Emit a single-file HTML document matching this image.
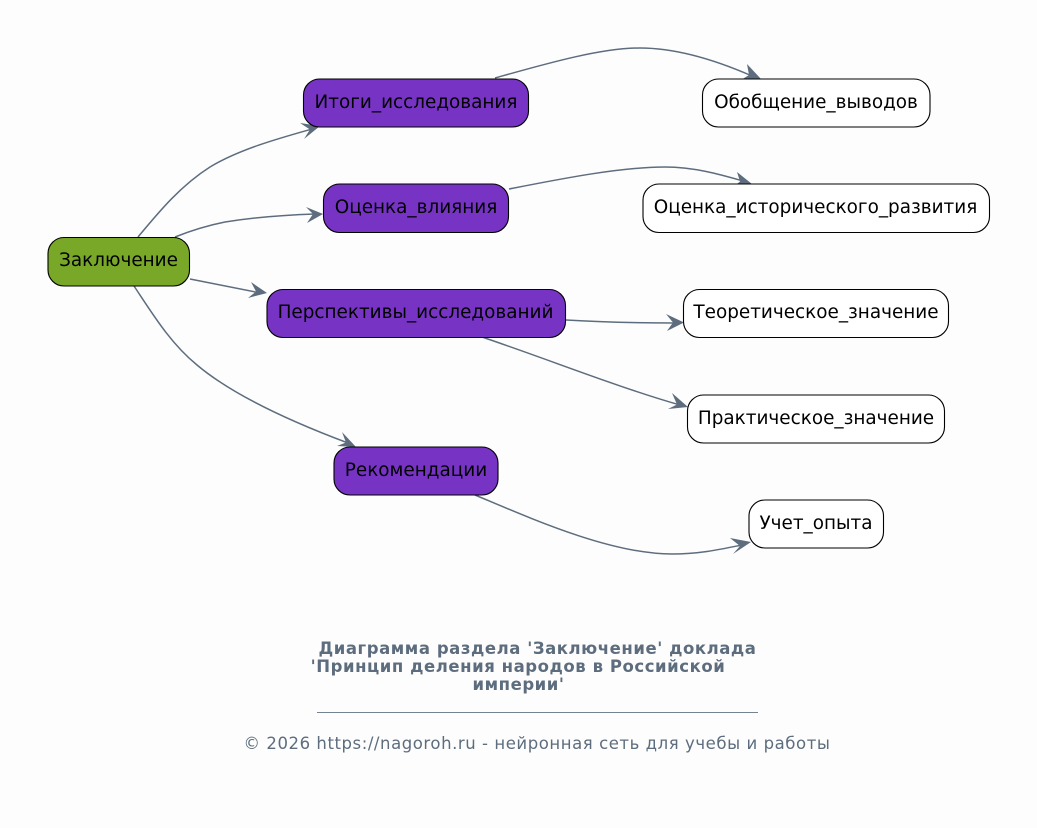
<!DOCTYPE html>
<html><head><meta charset="utf-8"><style>
html,body{margin:0;padding:0;background:#fdfdfd}
svg{display:block}
text{font-family:"DejaVu Sans",sans-serif}
.n{font-size:18.4px;fill:#000;text-anchor:middle}
.e{fill:none;stroke:#5d6d7e;stroke-width:1.5}
.a{fill:#5d6d7e;stroke:none}
.t{font-size:16.5px;letter-spacing:.55px;font-weight:bold;fill:#5d6d7e;text-anchor:middle}
</style></head><body>
<svg width="1037" height="828" viewBox="0 0 1037 828" xmlns="http://www.w3.org/2000/svg">
<rect width="1037" height="828" fill="#fdfdfd"/>
<g class="e">
<path d="M138,237C158,213 180,186 210,167C240,149 280,138 312,129"/>
<path d="M175,237C190,231 205,226 225,222C250,218 285,215 315,214"/>
<path d="M190,279C215,284 240,289 258,292.500"/>
<path d="M134,286C152,313 170,343 197,365C235,397 300,425 348,443"/>
<path d="M495,78C545,64 600,48 640,48C680,48 720,62 752,76"/>
<path d="M509,189C560,179 620,167 665,167C695,167 722,175 743,181"/>
<path d="M566,320C600,322 640,323 675,323"/>
<path d="M482,337C550,360 620,388 680,405"/>
<path d="M475,495C530,518 610,554 672,554C700,554 722,549 742,545"/>
</g>
<g class="a">
<path d="M320,126L300,123L310,129.500L304,139Z"/>
<path d="M323,214L306,207L313,214L307,223Z"/>
<path d="M267,293L251,282L256,291.500L248,298Z"/>
<path d="M356,447L342,432L346,442.500L337,446Z"/>
<path d="M761,79L747,64L749,75L741,80Z"/>
<path d="M752,184L737,172L740,181.500L733,187Z"/>
<path d="M684,322.500L666,314L673,322.500L667,331Z"/>
<path d="M688,407L672,393L677,404.500L668,409Z"/>
<path d="M751,542L730,538L740,546L733,554Z"/>
</g>
<g stroke="#000" stroke-width="1.100">
<rect x="48" y="237.500" width="141.500" height="48.500" rx="16" fill="#79a829"/>
<rect x="303.500" y="79" width="225" height="48" rx="16" fill="#7734c4"/>
<rect x="323.500" y="184" width="185" height="48.500" rx="16" fill="#7734c4"/>
<rect x="267" y="289.500" width="298.500" height="48" rx="16" fill="#7734c4"/>
<rect x="334" y="447" width="164" height="48" rx="16" fill="#7734c4"/>
<rect x="702.500" y="79" width="227.500" height="48" rx="16" fill="#fff"/>
<rect x="643" y="184" width="346.500" height="48.500" rx="16" fill="#fff"/>
<rect x="683.500" y="289.500" width="265" height="48" rx="16" fill="#fff"/>
<rect x="687.500" y="395" width="257" height="48" rx="16" fill="#fff"/>
<rect x="749" y="500" width="134.500" height="48" rx="16" fill="#fff"/>
</g>
<text class="n" x="118.500" y="266">Заключение</text>
<text class="n" x="416" y="108">Итоги_исследования</text>
<text class="n" x="416" y="213">Оценка_влияния</text>
<text class="n" x="415.500" y="318">Перспективы_исследований</text>
<text class="n" x="416" y="476">Рекомендации</text>
<text class="n" x="816" y="108">Обобщение_выводов</text>
<text class="n" x="815.500" y="213">Оценка_исторического_развития</text>
<text class="n" x="816" y="318">Теоретическое_значение</text>
<text class="n" x="816" y="424">Практическое_значение</text>
<text class="n" x="816" y="529">Учет_опыта</text>
<text class="t" x="537.500" y="654">Диаграмма раздела 'Заключение' доклада</text>
<text class="t" x="518" y="672">'Принцип деления народов в Российской</text>
<text class="t" x="518.500" y="690">империи'</text>
<rect x="317" y="712" width="441" height="1" fill="#5d6d7e" opacity=".85"/>
<text x="537" y="749" font-size="16.5" letter-spacing=".56" fill="#5d6d7e" text-anchor="middle">© 2026 https://nagoroh.ru - нейронная сеть для учебы и работы</text>
</svg>
</body></html>
